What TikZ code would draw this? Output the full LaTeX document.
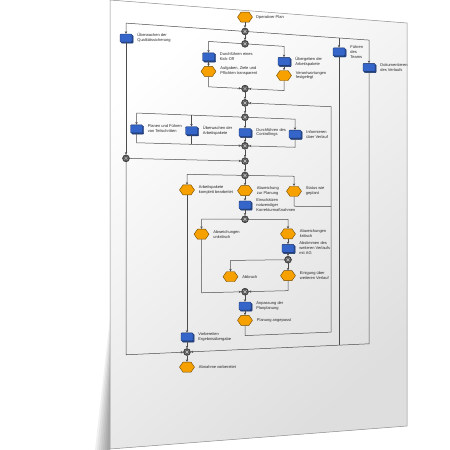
\documentclass[tikz,border=0pt]{standalone}
\usepackage{fontspec}
\setmainfont{Liberation Sans}
\usetikzlibrary{positioning,shapes.symbols,shadows,arrows.meta}

\definecolor{evorange}{HTML}{F7A100}
\definecolor{fnblau}{HTML}{3565C8}

% Blatt in leichter Perspektive: (pg cs:u,v) -> Bildpunkt
\makeatletter
\def\pg@split#1,#2\pg@stop{\def\pg@u{#1}\def\pg@v{#2}}
\tikzdeclarecoordinatesystem{pg}{%
  \pg@split#1\pg@stop
  \pgfmathsetmacro\pg@x{110+\pg@u}%
  \pgfmathsetmacro\pg@y{224.5+(\pg@v-224.5)*(1-0.1024*\pg@u/297)}%
  \pgfpointxy{\pg@x}{\pg@y}%
}
\makeatother

\tikzset{
  ereignis/.style={signal, signal to=east and west, signal pointer angle=110,
    minimum width=15pt, minimum height=10pt, inner sep=0pt,
    fill=evorange, draw=evorange!45!black, line width=0.4pt},
  funktion/.style={rectangle, minimum width=12pt, minimum height=8pt, inner sep=0pt,
    rounded corners=0.8pt, fill=fnblau, draw=fnblau!50!black, line width=0.4pt,
    copy shadow={shadow xshift=1.2pt, shadow yshift=-1.2pt, fill=fnblau!70!black, draw=fnblau!50!black}},
  konn/.style={circle, minimum size=7pt, inner sep=0pt, fill=black!65, draw=black!85, line width=0.4pt,
    path picture={\draw[black!20, line width=0.5pt]
      ([shift={(-1.5pt,-1.5pt)}]path picture bounding box.center) -- ([shift={(1.5pt,1.5pt)}]path picture bounding box.center)
      ([shift={(-1.5pt,1.5pt)}]path picture bounding box.center) -- ([shift={(1.5pt,-1.5pt)}]path picture bounding box.center);}},
  txt/.style={font=\fontsize{4}{4.9}\selectfont, align=left, inner sep=0pt, text=black!85},
  fluss/.style={draw=black!70, line width=0.5pt},
  pfeil/.style={fluss, -{Stealth[length=2.6pt,width=2.4pt]}}
}

\begin{document}
\begin{tikzpicture}[x=1pt,y=-1pt]
\useasboundingbox (0,0) rectangle (450,450);
% Schatten und Blatt
\foreach \i in {0,...,6}
  \fill[black, opacity=0.06] (110,318+10*\i) -- (95+2*\i,450) -- (110,450) -- cycle;
\shade[top color=white, bottom color=black!13, shading angle=40]
  (pg cs:0,0) -- (pg cs:297,0) -- (pg cs:297,449) -- (pg cs:0,449) -- cycle;
\draw[black!45, line width=0.5pt]
  (pg cs:0,0) -- (pg cs:297,0) -- (pg cs:297,449) -- (pg cs:0,449) -- cycle;

% Elemente
\node[ereignis] (op) at (pg cs:135,7) {};
\node[txt, right=3pt of op] (opT) {Operativer Plan};
\node[konn] (k1) at (pg cs:135,22) {};
\node[konn] (k2) at (pg cs:135,35) {};
\node[funktion] (qs) at (pg cs:16,37) {};
\node[txt, right=5pt of qs] (qsT) {Überwachen der\\Qualitätssicherung};
\node[funktion] (team) at (pg cs:229,37) {};
\node[txt, right=5pt of team] (teamT) {Führen\\des\\Teams};
\node[funktion] (doku) at (pg cs:259,52) {};
\node[txt, right=5pt of doku] (dokuT) {Dokumentieren\\des Verlaufs};
\node[funktion] (kick) at (pg cs:98.5,51) {};
\node[txt, right=5pt of kick] (kickT) {Durchführen eines\\Kick-Off};
\node[ereignis] (ziel) at (pg cs:98.5,66) {};
\node[txt, right=4pt of ziel] (zielT) {Aufgaben, Ziele und\\Pflichten transparent};
\node[funktion] (ap) at (pg cs:174,51) {};
\node[txt, right=5pt of ap] (apT) {Übergeben der\\Arbeitspakete};
\node[ereignis] (ver) at (pg cs:174,66) {};
\node[txt, right=4pt of ver] (verT) {Verantwortungen\\festgelegt};
\node[konn] (k3) at (pg cs:135,82) {};
\node[konn] (k4) at (pg cs:135,97) {};
\node[konn] (k5) at (pg cs:135,112) {};
\node[funktion] (plan) at (pg cs:26.5,128) {};
\node[txt, right=5pt of plan] (planT) {Planen und Führen\\von Teilschritten};
\node[funktion] (uap) at (pg cs:81.5,128) {};
\node[txt, right=5pt of uap] (uapT) {Überwachen der\\Arbeitspakete};
\node[funktion] (ctrl) at (pg cs:135,128) {};
\node[txt, right=5pt of ctrl] (ctrlT) {Durchführen des\\Controllings};
\node[funktion] (info) at (pg cs:185,128) {};
\node[txt, right=5pt of info] (infoT) {Informieren\\über Verlauf};
\node[konn] (k6) at (pg cs:135,142) {};
\node[konn] (k7) at (pg cs:16,158) {};
\node[konn] (k8) at (pg cs:135,158) {};
\node[konn] (k9) at (pg cs:135,173) {};
\node[ereignis] (komp) at (pg cs:77,189) {};
\node[txt, right=4pt of komp] (kompT) {Arbeitspakete\\komplett bearbeitet};
\node[ereignis] (abw) at (pg cs:135,189) {};
\node[txt, right=4pt of abw] (abwT) {Abweichung\\zur Planung};
\node[ereignis] (stat) at (pg cs:184,189) {};
\node[txt, right=4pt of stat] (statT) {Status wie\\geplant};
\node[funktion] (korr) at (pg cs:135,204) {};
\node[txt, right=5pt of korr] (korrT) {Einschätzen\\notwendiger\\Korrekturmaßnahmen};
\node[konn] (k10) at (pg cs:135,219) {};
\node[ereignis] (unk) at (pg cs:91.5,234.5) {};
\node[txt, right=4pt of unk] (unkT) {Abweichungen\\unkritisch};
\node[ereignis] (krit) at (pg cs:178,234.5) {};
\node[txt, right=4pt of krit] (kritT) {Abweichungen\\kritisch};
\node[funktion] (abst) at (pg cs:178,250) {};
\node[txt, right=5pt of abst] (abstT) {Abstimmen des\\weiteren Verlaufs\\mit AG};
\node[konn] (k11) at (pg cs:178,262) {};
\node[ereignis] (abb) at (pg cs:120.5,279) {};
\node[txt, right=4pt of abb] (abbT) {Abbruch};
\node[ereignis] (eini) at (pg cs:178,279) {};
\node[txt, right=4pt of eini] (einiT) {Einigung über\\weiteren Verlauf};
\node[konn] (k12) at (pg cs:135,295) {};
\node[funktion] (anp) at (pg cs:135,310) {};
\node[txt, right=5pt of anp] (anpT) {Anpassung der\\Planplanung};
\node[ereignis] (pang) at (pg cs:135,325) {};
\node[txt, right=4pt of pang] (pangT) {Planung angepasst};
\node[funktion] (vorb) at (pg cs:77,340) {};
\node[txt, right=5pt of vorb] (vorbT) {Vorbereiten\\Ergebnisübergabe};
\node[konn] (k13) at (pg cs:77,355.5) {};
\node[ereignis] (abn) at (pg cs:77,371) {};
\node[txt, right=4pt of abn] (abnT) {Abnahme vorbereitet};

% Eckpunkte
\coordinate (c1) at (pg cs:16,22);
\coordinate (c2) at (pg cs:229,22);
\coordinate (c3) at (pg cs:259,22);
\coordinate (c4) at (pg cs:98.5,35);
\coordinate (c5) at (pg cs:174,35);
\coordinate (c6) at (pg cs:98.5,82);
\coordinate (c7) at (pg cs:174,82);
\coordinate (c8) at (pg cs:135,341);
\coordinate (c9) at (pg cs:221,341);
\coordinate (c10) at (pg cs:221,97);
\coordinate (c11) at (pg cs:184,205);
\coordinate (c12) at (pg cs:221,205);
\coordinate (c13) at (pg cs:26.5,112);
\coordinate (c14) at (pg cs:81.5,112);
\coordinate (c15) at (pg cs:185,112);
\coordinate (c16) at (pg cs:26.5,142);
\coordinate (c17) at (pg cs:81.5,142);
\coordinate (c18) at (pg cs:185,142);
\coordinate (c19) at (pg cs:16,355.5);
\coordinate (c20) at (pg cs:77,173);
\coordinate (c21) at (pg cs:184,173);
\coordinate (c22) at (pg cs:229,355.5);
\coordinate (c23) at (pg cs:259,355.5);
\coordinate (c24) at (pg cs:91.5,219);
\coordinate (c25) at (pg cs:178,219);
\coordinate (c26) at (pg cs:120.5,262);
\coordinate (c27) at (pg cs:91.5,295);
\coordinate (c28) at (pg cs:178,295);

% Kanten
\draw[pfeil] (op) -- (k1);
\draw[pfeil] (k1) -- (c1) -- (qs);
\draw[pfeil] (k1) -- (c3) -- (doku);
\draw[pfeil] (c2) -- (team);
\draw[pfeil] (k1) -- (k2);
\draw[pfeil] (k2) -- (c4) -- (kick);
\draw[pfeil] (k2) -- (c5) -- (ap);
\draw[pfeil] (kick) -- (ziel);
\draw[pfeil] (ap) -- (ver);
\draw[pfeil] (ziel) -- (c6) -- (k3);
\draw[pfeil] (ver) -- (c7) -- (k3);
\draw[pfeil] (k3) -- (k4);
\draw[pfeil] (pang) -- (c8) -- (c9) -- (c10) -- (k4);
\draw[fluss] (stat) -- (c11) -- (c12);
\draw[pfeil] (k4) -- (k5);
\draw[pfeil] (k5) -- (c13) -- (plan);
\draw[pfeil] (c14) -- (uap);
\draw[pfeil] (k5) -- (ctrl);
\draw[pfeil] (k5) -- (c15) -- (info);
\draw[pfeil] (plan) -- (c16) -- (k6);
\draw[fluss] (uap) -- (c17);
\draw[pfeil] (info) -- (c18) -- (k6);
\draw[pfeil] (ctrl) -- (k6);
\draw[pfeil] (qs) -- (k7);
\draw[pfeil] (k7) -- (k8);
\draw[pfeil] (k7) -- (c19) -- (k13);
\draw[pfeil] (k6) -- (k8);
\draw[pfeil] (k8) -- (k9);
\draw[pfeil] (k9) -- (c20) -- (komp);
\draw[pfeil] (k9) -- (abw);
\draw[pfeil] (k9) -- (c21) -- (stat);
\draw[pfeil] (komp) -- (vorb);
\draw[pfeil] (vorb) -- (k13);
\draw[pfeil] (k13) -- (abn);
\draw[fluss] (team) -- (c22);
\draw[pfeil] (doku) -- (c23) -- (k13);
\draw[pfeil] (abw) -- (korr);
\draw[pfeil] (korr) -- (k10);
\draw[pfeil] (k10) -- (c24) -- (unk);
\draw[pfeil] (k10) -- (c25) -- (krit);
\draw[pfeil] (krit) -- (abst);
\draw[pfeil] (abst) -- (k11);
\draw[pfeil] (k11) -- (c26) -- (abb);
\draw[pfeil] (k11) -- (eini);
\draw[pfeil] (unk) -- (c27) -- (k12);
\draw[pfeil] (eini) -- (c28) -- (k12);
\draw[pfeil] (k12) -- (anp);
\draw[pfeil] (anp) -- (pang);
\end{tikzpicture}
\end{document}
